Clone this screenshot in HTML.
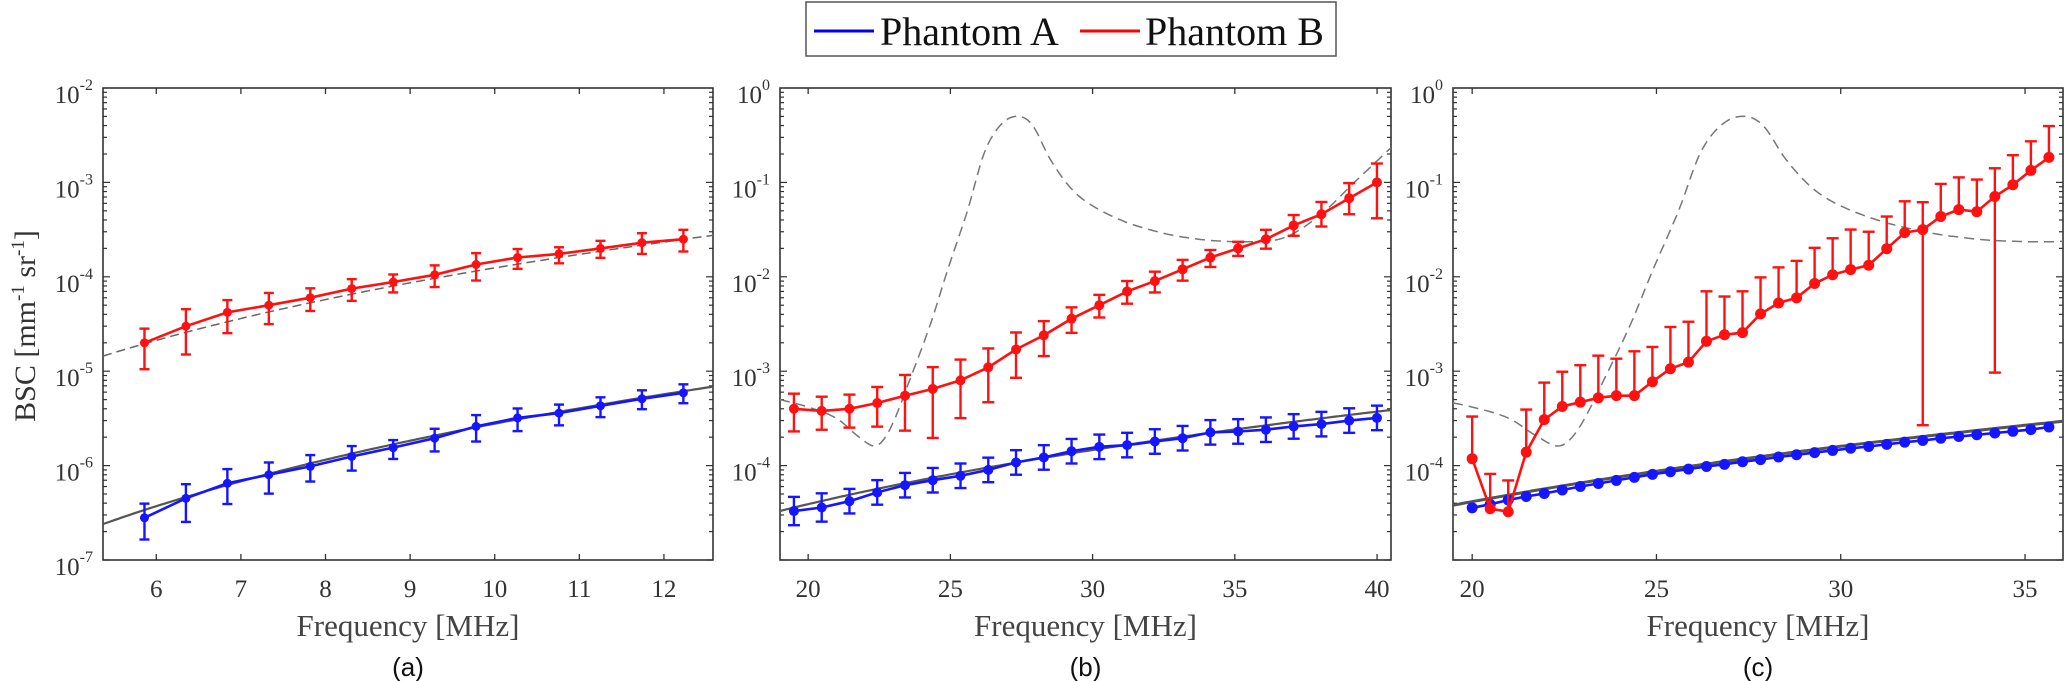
<!DOCTYPE html>
<html><head><meta charset="utf-8">
<style>
html,body{margin:0;padding:0;background:#fff;}
svg{display:block;}
</style></head>
<body>
<svg id="s" width="2066" height="681" viewBox="0 0 2066 681" xmlns="http://www.w3.org/2000/svg" font-family="Liberation Serif, serif">
<rect width="2066" height="681" fill="#fff"/>
<rect x="806" y="2" width="530" height="54" fill="#fff" stroke="#555" stroke-width="1.5"/>
<line x1="814" y1="31" x2="874" y2="31" stroke="#0000ff" stroke-width="3"/>
<text x="880" y="45" font-size="40" fill="#111">Phantom A</text>
<line x1="1080" y1="31" x2="1140" y2="31" stroke="#ff0000" stroke-width="3"/>
<text x="1145" y="45" font-size="40" fill="#111">Phantom B</text>
<text transform="translate(35,326) rotate(-90)" text-anchor="middle" font-size="30" fill="#333">BSC [mm<tspan font-size="19" dy="-11">-1</tspan><tspan dy="11"> sr</tspan><tspan font-size="19" dy="-11">-1</tspan><tspan dy="11">]</tspan></text>
<g id="g"></g>
</svg>
<script>
var NS="http://www.w3.org/2000/svg",G=document.getElementById('g');
function el(t,a,txt){var e=document.createElementNS(NS,t);for(var k in a)e.setAttribute(k,a[k]);if(txt!==undefined)e.textContent=txt;G.appendChild(e);return e;}
var TOP=88,BOT=560,DEC=94.4;
function panel(P){
  P.X=function(f){return P.x0+(f-P.f0)*(P.x1-P.x0)/(P.f1-P.f0);};
  P.Y=function(l){return TOP+(P.top-l)*DEC;};
  return P;
}
function axes(P,xt,lab,nlab){
  el('rect',{x:P.x0,y:TOP,width:P.x1-P.x0,height:BOT-TOP,fill:'none',stroke:'#333','stroke-width':1.6});
  for(var d=0;d<5;d++){for(var m=1;m<10;m++){var l=P.top-d-1+Math.log10(m);var y=P.Y(l);var len=(m==1)?7:4;
    el('line',{x1:P.x0,y1:y,x2:P.x0+len,y2:y,stroke:'#333','stroke-width':1.2});
    el('line',{x1:P.x1,y1:y,x2:P.x1-len,y2:y,stroke:'#333','stroke-width':1.2});}}
  for(var d=0;d<nlab;d++){var e=P.top-d;var y=P.Y(e);
    var t=el('text',{x:P.x0-10,y:y+15,'text-anchor':'end','font-size':25,fill:'#333'});
    t.innerHTML='10<tspan font-size="16" dy="-13">'+e+'</tspan>';}
  xt.forEach(function(f){var x=P.X(f);
    el('line',{x1:x,y1:BOT,x2:x,y2:BOT-6,stroke:'#333','stroke-width':1.3});
    el('line',{x1:x,y1:TOP,x2:x,y2:TOP+6,stroke:'#333','stroke-width':1.3});
    el('text',{x:x,y:597,'text-anchor':'middle','font-size':25,fill:'#333'},String(f));});
  var cx=(P.x0+P.x1)/2;
  el('text',{x:cx,y:636,'text-anchor':'middle','font-size':31,fill:'#444'},'Frequency [MHz]');
  el('text',{x:cx,y:676,'text-anchor':'middle','font-size':26,fill:'#111','font-family':'Liberation Sans, sans-serif'},lab);
}
function curve(P,fn,attrs){var d='';for(var i=0;i<=200;i++){var f=P.f0+(P.f1-P.f0)*i/200;var l=fn(f);d+=(i?'L':'M')+P.X(f).toFixed(1)+','+P.Y(l).toFixed(1);}
  attrs.d=d;attrs.fill='none';el('path',attrs);}
function pw(f0,l0,s){return function(f){return l0+s*Math.log10(f/f0);};}
function series(P,fs,ls,errs,col,r,cap){
  var d='';fs.forEach(function(f,i){d+=(i?'L':'M')+P.X(f).toFixed(1)+','+P.Y(ls[i]).toFixed(1);});
  el('path',{d:d,fill:'none',stroke:col,'stroke-width':2.6});
  fs.forEach(function(f,i){var x=P.X(f),y=P.Y(ls[i]);
    if(errs&&errs[i]){var e=errs[i];var yt=e[0]!=null?P.Y(ls[i]+e[0]):y;var yb=e[1]!=null?P.Y(ls[i]-e[1]):y;
      el('line',{x1:x,y1:yt,x2:x,y2:yb,stroke:col,'stroke-width':2.4});
      if(e[0]!=null)el('line',{x1:x-cap,y1:yt,x2:x+cap,y2:yt,stroke:col,'stroke-width':2.4});
      if(e[1]!=null)el('line',{x1:x-cap,y1:yb,x2:x+cap,y2:yb,stroke:col,'stroke-width':2.4});}
    el('circle',{cx:x,cy:y,r:r,fill:col});});
}
var dashPts=[[19.0,-3.3],[20,-3.38],[21,-3.5],[21.8,-3.7],[22.4,-3.79],[22.9,-3.6],[23.6,-3.07],[24.3,-2.5],[24.9,-1.93],[25.6,-1.3],[26.2,-0.68],[26.8,-0.38],[27.4,-0.30],[27.9,-0.4],[28.5,-0.75],[29.2,-1.05],[29.9,-1.23],[31,-1.4],[32,-1.5],[33,-1.57],[34.4,-1.62],[36.2,-1.62],[37,-1.55],[38.1,-1.32],[39.2,-1.0],[40.5,-0.63]];
function dashFn(f){var p=dashPts;if(f<=p[0][0])return p[0][1];
  for(var i=1;i<p.length;i++){if(f<=p[i][0]){
    var i0=Math.max(0,i-2),i1=i-1,i2=i,i3=Math.min(p.length-1,i+1);
    var t=(f-p[i1][0])/(p[i2][0]-p[i1][0]);
    var m1=(p[i2][1]-p[i0][1])/(p[i2][0]-p[i0][0])*(p[i2][0]-p[i1][0]);
    var m2=(p[i3][1]-p[i1][1])/(p[i3][0]-p[i1][0])*(p[i2][0]-p[i1][0]);
    var t2=t*t,t3=t2*t;
    return (2*t3-3*t2+1)*p[i1][1]+(t3-2*t2+t)*m1+(-2*t3+3*t2)*p[i2][1]+(t3-t2)*m2;}}
  return p[p.length-1][1];}
var L=Math.log10;
var A=panel({x0:103,x1:713,f0:5.37,f1:12.58,top:-2});
axes(A,[6,7,8,9,10,11,12],'(a)',6);
curve(A,pw(5.37,-4.84,3.46),{stroke:'#666','stroke-width':1.5,'stroke-dasharray':'9,5'});
curve(A,pw(5.37,-6.62,3.94),{stroke:'#555','stroke-width':2.2});
var fa=[];for(var i=0;i<14;i++)fa.push(5.86+i*0.49);
var ra=[2e-5,3e-5,4.2e-5,5e-5,6e-5,7.5e-5,8.8e-5,1.05e-4,1.35e-4,1.6e-4,1.75e-4,2e-4,2.3e-4,2.5e-4].map(L);
var ba=[2.8e-7,4.5e-7,6.5e-7,8e-7,9.8e-7,1.25e-6,1.55e-6,1.95e-6,2.6e-6,3.2e-6,3.6e-6,4.3e-6,5.1e-6,5.9e-6].map(L);
series(A,fa,ra,[[.15,.28],[.18,.3],[.13,.22],[.13,.2],[.1,.14],[.1,.13],[.08,.11],[.1,.13],[.12,.17],[.09,.12],[.07,.1],[.08,.1],[.1,.12],[.1,.13]],'#ff1111',4.5,5);
series(A,fa,ba,[[.15,.23],[.15,.25],[.15,.22],[.13,.2],[.12,.16],[.11,.15],[.08,.12],[.1,.14],[.12,.16],[.1,.14],[.09,.13],[.09,.12],[.09,.11],[.09,.11]],'#1515ff',4.5,5);
var B=panel({x0:780,x1:1391,f0:19.01,f1:40.49,top:0});
axes(B,[20,25,30,35,40],'(b)',5);
curve(B,dashFn,{stroke:'#777','stroke-width':1.5,'stroke-dasharray':'10,6'});
curve(B,pw(19.01,-4.48,3.255),{stroke:'#555','stroke-width':2.2});
var fb=[];for(var i=0;i<22;i++)fb.push(19.5+i*0.976);
var rb=[4e-4,3.8e-4,4e-4,4.6e-4,5.5e-4,6.5e-4,8e-4,1.1e-3,1.7e-3,2.4e-3,3.6e-3,5e-3,7e-3,9e-3,1.2e-2,1.6e-2,2e-2,2.5e-2,3.5e-2,4.6e-2,6.8e-2,1e-1].map(L);
var bb=[3.3e-5,3.6e-5,4.2e-5,5.2e-5,6.2e-5,7e-5,7.8e-5,9e-5,1.08e-4,1.22e-4,1.42e-4,1.58e-4,1.65e-4,1.8e-4,1.95e-4,2.25e-4,2.3e-4,2.4e-4,2.6e-4,2.75e-4,3e-4,3.2e-4].map(L);
series(B,fb,rb,[[.16,.24],[.15,.2],[.15,.2],[.17,.25],[.22,.37],[.23,.52],[.22,.4],[.2,.37],[.18,.3],[.15,.22],[.12,.15],[.11,.13],[.11,.13],[.1,.12],[.1,.12],[.08,.1],[.07,.08],[.1,.1],[.11,.11],[.13,.13],[.16,.17],[.2,.38]],'#ff1111',5,6);
var eb=bb.map(function(_,i){return i<2?[.15,.15]:[.13,.13];});
series(B,fb,bb,eb,'#1515ff',5,6);
var C=panel({x0:1453,x1:2063,f0:19.48,f1:36.03,top:0});
axes(C,[20,25,30,35],'(c)',5);
curve(C,dashFn,{stroke:'#777','stroke-width':1.5,'stroke-dasharray':'10,6'});
curve(C,pw(19.48,-4.42,3.33),{stroke:'#555','stroke-width':3});
function zl(y){return -((y/2.3)-TOP)/DEC;}
var fc=[];for(var i=0;i<33;i++)fc.push(20+i*0.489);
var ry=[1055,1170,1177,1040,965,935,925,915,910,910,878,848,833,785,770,765,722,697,685,652,632,620,610,572,535,528,498,482,487,452,425,392,362];
var uy=[958,1090,1105,942,880,855,840,818,825,808,798,752,740,670,682,670,638,615,600,570,548,528,533,498,463,465,423,408,413,387,357,325,290];
var rc=ry.map(zl);
var ec=ry.map(function(y,i){return [zl(uy[i])-zl(y),null];});
ec[25][1]=zl(ry[25])-zl(978);ec[29][1]=zl(ry[29])-zl(857);
var by=[1168,1160,1150,1142,1135,1127,1119,1112,1105,1098,1091,1085,1079,1073,1068,1062,1057,1051,1046,1041,1036,1031,1027,1022,1017,1013,1008,1004,1000,996,992,988,982];
series(C,fc,by.map(zl),null,'#1515ff',5.5,6);
series(C,fc,rc,ec,'#ff1111',5.5,6);
</script>
</body></html>
